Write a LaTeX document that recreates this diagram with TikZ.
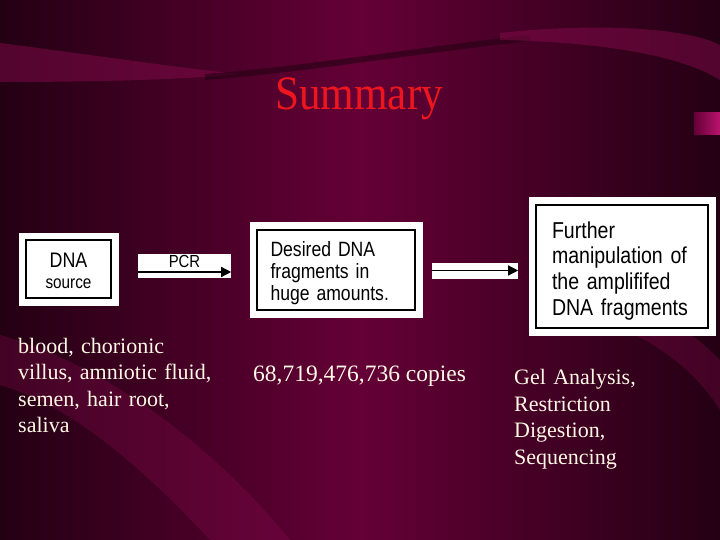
\documentclass[tikz,border=0pt]{standalone}
\usepackage{graphicx}
\usepackage{fontspec}
\setmainfont{Liberation Serif}
\newfontfamily\boxfont[FakeStretch=0.85]{Liberation Sans}
\usetikzlibrary{arrows.meta,positioning}
\definecolor{slBack}{RGB}{100,0,54}
\definecolor{slDark}{RGB}{36,0,19}
\definecolor{slBand}{RGB}{140,12,80}
\definecolor{slBright}{RGB}{185,20,110}
\definecolor{slTitle}{RGB}{238,22,30}
\definecolor{slCream}{RGB}{255,248,228}

\begin{document}
\begin{tikzpicture}[x=1pt, y=-1pt,
  box/.style={draw=black, line width=1.2pt, fill=white, inner sep=0pt, preaction={draw=white, line width=15pt}},
  strip/.style={fill=white, inner sep=0pt},
  note/.style={anchor=base west, inner sep=0pt, text=slCream, align=left, font=\fontsize{22}{26.6}\selectfont},
  ar/.style={-{Triangle[length=10pt, width=10pt]}, line width=1.3pt, black},
  band/.style={fill=slBand, opacity=0.45}
]
\fill[left color=slDark, right color=slDark, middle color=slBack] (0,0) rectangle (720,540);
\useasboundingbox (0,0) rectangle (720,540);

\fill[band] (0,43) .. controls (100,56) and (180,68) .. (240,74) .. controls (180,80) and (90,82) .. (0,82) -- cycle;
\draw[slDark, line width=6pt, opacity=0.6] (205,77) .. controls (300,70) and (420,50) .. (530,38);
\fill[band] (500,33) .. controls (580,24) and (680,25) .. (720,45) -- (720,80) .. controls (680,55) and (600,42) .. (500,40) -- cycle;
\fill[band, opacity=0.3] (0,335) .. controls (90,360) and (200,430) .. (290,540) -- (210,540) .. controls (140,465) and (70,405) .. (0,385) -- cycle;
\fill[band, opacity=0.3] (600,322) .. controls (650,335) and (695,370) .. (720,410) -- (720,360) .. controls (700,340) and (680,325) .. (660,318) -- cycle;
\fill[left color=slBack, right color=slBright] (694,113) rectangle (720,135);

\node[anchor=base, text=slTitle, font=\fontsize{48}{52}\selectfont] (title) at (359,110) {\scalebox{0.9}[1]{Summary}};

\node[box, minimum width=85pt, minimum height=58pt, text width=85pt, align=center, text height=17pt, text depth=21pt,
  font=\boxfont\fontsize{21}{21}\selectfont] (src) at (68.5,269) {DNA\\{\fontsize{18}{18}\selectfont source}};
\node[strip, minimum width=93pt, minimum height=24pt, text height=11pt, text depth=9pt,
  font=\boxfont\fontsize{17.5}{18}\selectfont] (pcr) at (184.5,266) {PCR};
\node[box, minimum width=158pt, minimum height=80pt, text width=131pt, align=left, text height=21pt, text depth=48pt,
  font=\boxfont\fontsize{20.7}{22}\selectfont] (frag) at (336,270) {Desired DNA\\fragments in\\huge amounts.};
\node[strip, minimum width=86pt, minimum height=16pt] (amp) at (475,270.5) {};
\node[box, minimum width=172pt, minimum height=123pt, text width=140pt, align=left, text height=24pt, text depth=81pt,
  font=\boxfont\fontsize{23}{25.7}\selectfont] (more) at (622,266.5) {Further\\manipulation of\\the amplififed\\DNA fragments};

\foreach \s/\d in {pcr/-6pt, amp/0pt} \draw[ar] ([yshift=\d]\s.west) -- ([yshift=\d]\s.east);

\node[note, text width=210pt] (srcnote) at (18,353) {blood, chorionic\\villus, amniotic fluid,\\semen, hair root,\\saliva};
\node[note, font=\fontsize{23.5}{26.6}\selectfont] (copies) at (253,381) {68,719,476,736 copies};
\node[note, text width=150pt] (uses) at (514,384.5) {Gel Analysis,\\Restriction\\Digestion,\\Sequencing};
\end{tikzpicture}
\end{document}
